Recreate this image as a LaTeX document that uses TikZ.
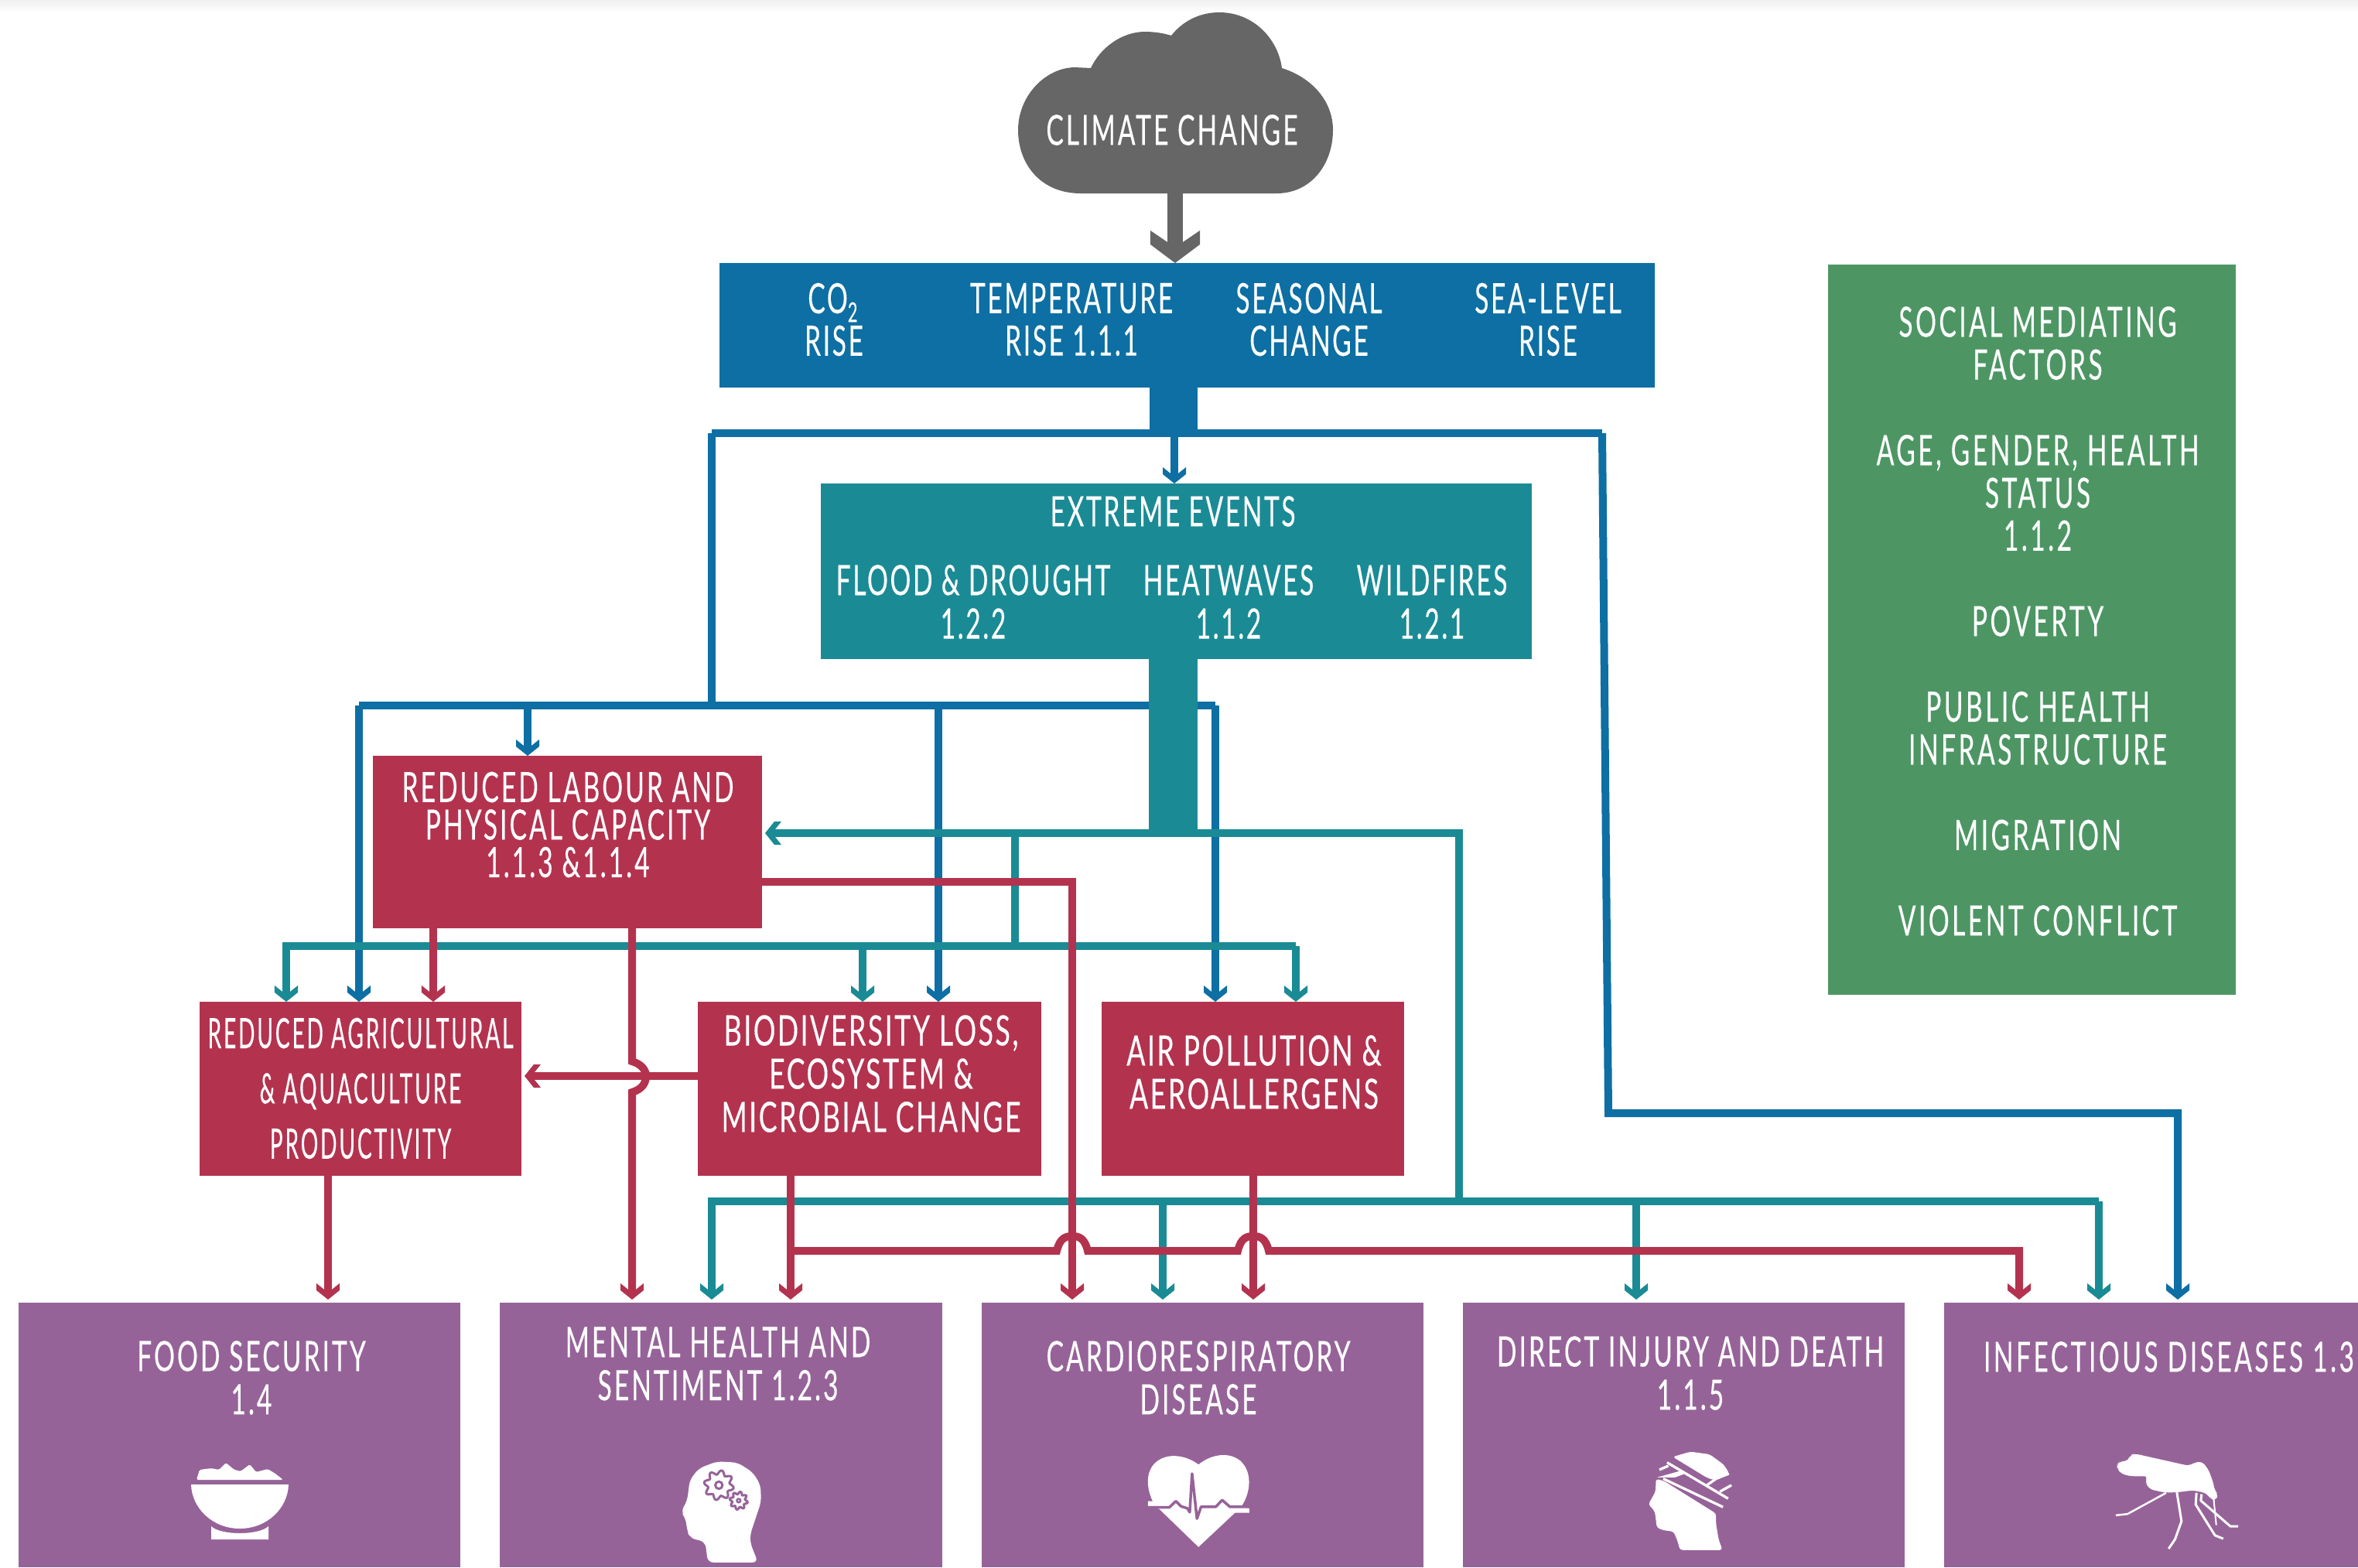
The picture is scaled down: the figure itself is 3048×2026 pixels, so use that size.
\documentclass[tikz,border=0pt]{standalone}
\usepackage{fontspec}
\usetikzlibrary{arrows.meta,fit}
\newfontfamily\tf[FakeStretch=0.62,LetterSpace=5.6,FakeBold=0.25]{Lato}
\newfontfamily\tfb[FakeStretch=0.62,LetterSpace=4.8,FakeBold=0.25]{Lato}
\newfontfamily\tfg[FakeStretch=0.62,LetterSpace=6.4,FakeBold=0.25]{Lato}
\newfontfamily\tfw[FakeStretch=0.66,LetterSpace=4.6,FakeBold=0.25]{Lato}
\newfontfamily\tfn[FakeStretch=0.52,LetterSpace=5.2,FakeBold=0.25]{Lato}
\definecolor{cblue}{HTML}{0D6FA3}
\definecolor{cteal}{HTML}{1A8B95}
\definecolor{cred}{HTML}{B3334F}
\definecolor{cpurple}{HTML}{966399}
\definecolor{cgreen}{HTML}{4D9664}
\definecolor{cgray}{HTML}{666666}
\pgfdeclarearrow{
  name=Chev,
  setup code={
    \pgfarrowssettipend{0pt}
    \pgfarrowssetbackend{-0.21cm}
    \pgfarrowssetlineend{-0.11cm}
    \pgfarrowssetvisualbackend{-0.11cm}
    \pgfarrowshullpoint{0pt}{0pt}
    \pgfarrowshullpoint{-0.21cm}{0.15cm}
    \pgfarrowshullpoint{-0.21cm}{-0.15cm}
  },
  drawing code={
    \pgfpathmoveto{\pgfqpoint{0pt}{0pt}}
    \pgfpathlineto{\pgfpoint{-0.12cm}{0.15cm}}
    \pgfpathlineto{\pgfpoint{-0.21cm}{0.15cm}}
    \pgfpathlineto{\pgfpoint{-0.13cm}{0.05cm}}
    \pgfpathlineto{\pgfpoint{-0.13cm}{-0.05cm}}
    \pgfpathlineto{\pgfpoint{-0.21cm}{-0.15cm}}
    \pgfpathlineto{\pgfpoint{-0.12cm}{-0.15cm}}
    \pgfpathclose
    \pgfusepathqfill
  }
}
\pgfdeclarearrow{
  name=ChevBig,
  setup code={
    \pgfarrowssettipend{0pt}
    \pgfarrowssetbackend{-0.42cm}
    \pgfarrowssetlineend{-0.22cm}
    \pgfarrowssetvisualbackend{-0.22cm}
    \pgfarrowshullpoint{0pt}{0pt}
    \pgfarrowshullpoint{-0.42cm}{0.32cm}
    \pgfarrowshullpoint{-0.42cm}{-0.32cm}
  },
  drawing code={
    \pgfpathmoveto{\pgfqpoint{0pt}{0pt}}
    \pgfpathlineto{\pgfpoint{-0.24cm}{0.32cm}}
    \pgfpathlineto{\pgfpoint{-0.42cm}{0.32cm}}
    \pgfpathlineto{\pgfpoint{-0.27cm}{0.1cm}}
    \pgfpathlineto{\pgfpoint{-0.27cm}{-0.1cm}}
    \pgfpathlineto{\pgfpoint{-0.42cm}{-0.32cm}}
    \pgfpathlineto{\pgfpoint{-0.24cm}{-0.32cm}}
    \pgfpathclose
    \pgfusepathqfill
  }
}
\tikzset{
  x=0.01cm,y=-0.01cm,
  box/.style={inner sep=0pt,outer sep=0pt,draw=none},
  lbl/.style={text=white,inner sep=0pt,outer sep=0pt,align=center},
  ls/.style={font=\tf\fontsize{15.4}{#1}\selectfont},
  lsb/.style={font=\tfb\fontsize{15.4}{#1}\selectfont},
  lsg/.style={font=\tfg\fontsize{15.4}{#1}\selectfont},
  lsw/.style={font=\tfw\fontsize{15.4}{#1}\selectfont},
  lsn/.style={font=\tfn\fontsize{15.4}{#1}\selectfont},
  bline/.style={draw=cblue,line width=0.1cm},
  tline/.style={draw=cteal,line width=0.1cm},
  rline/.style={draw=cred,line width=0.1cm},
  arr/.style={-{Chev}},
  gap/.style={shorten >=0.04cm},
  ico/.style={x=0.003333cm,y=-0.003333cm}
}
\begin{document}
\begin{tikzpicture}
\useasboundingbox (0,0) rectangle (3048,2026);
\clip (0,0) rectangle (3048,2026);
\fill[white] (0,0) rectangle (3048,2026);
\shade[top color=black!6,bottom color=white] (0,0) rectangle (3048,16);

% cloud
\fill[cgray] (1397,250) .. controls (1345,250) and (1316,212) .. (1316,168) .. controls (1316,125) and (1350,88) .. (1389,87) -- (1410,88) .. controls (1422,62) and (1450,41) .. (1480,41) .. controls (1492,41) and (1505,43) .. (1514,46) .. controls (1528,28) and (1550,16) .. (1576,16) .. controls (1620,16) and (1652,50) .. (1657,88) .. controls (1695,100) and (1723,130) .. (1723,168) .. controls (1723,212) and (1695,250) .. (1650,250) -- cycle;
\node[lbl,ls=16] (climate) at (1515,168) {CLIMATE CHANGE};

% boxes
\node[box,fill=cblue,fit={(930,340)(2139,501)}] (drivers) {};
\node[box,fill=cblue,fit={(1486,501)(1548,560)}] (dtrunk) {};
\node[box,fill=cteal,fit={(1061,625)(1980,852)}] (extreme) {};
\node[box,fill=cgreen,fit={(2363,342)(2890,1286)}] (social) {};
\node[box,fill=cred,fit={(482,977)(985,1200)}] (labour) {};
\node[box,fill=cred,fit={(258,1295)(674,1520)}] (agri) {};
\node[box,fill=cred,fit={(902,1295)(1346,1520)}] (bio) {};
\node[box,fill=cred,fit={(1424,1295)(1815,1520)}] (air) {};
\node[box,fill=cpurple,fit={(24,1684)(595,2026)}] (food) {};
\node[box,fill=cpurple,fit={(646,1684)(1218,2026)}] (mental) {};
\node[box,fill=cpurple,fit={(1269,1684)(1840,2026)}] (cardio) {};
\node[box,fill=cpurple,fit={(1891,1684)(2462,2026)}] (injury) {};
\node[box,fill=cpurple,fit={(2513,1684)(3060,2026)}] (infect) {};

% junctions
\coordinate (cloudb) at (1519,250);
\coordinate (b0) at (1518,560);
\coordinate (bl) at (920,560);
\coordinate (br) at (2071,560);
\coordinate (bb) at (920,912);
\coordinate (bbl) at (464,912);
\coordinate (bbr) at (1571,912);
\coordinate (bb1) at (682,912);
\coordinate (bb2) at (1213,912);
\coordinate (brc) at (2079,1439);
\coordinate (brd) at (2815,1439);
\coordinate (t0) at (1485,1077);
\coordinate (tr) at (1886,1077);
\coordinate (tm) at (1886,1553);
\coordinate (tj) at (1312,1077);
\coordinate (tb) at (1312,1223);
\coordinate (tbl) at (370,1223);
\coordinate (tbr) at (1675,1223);
\coordinate (tb1) at (1115,1223);
\coordinate (tlo) at (920,1553);
\coordinate (tlo2) at (2713,1553);
\coordinate (tlo3) at (1503,1553);
\coordinate (tlo4) at (2115,1553);
\coordinate (ra) at (560,1200);
\coordinate (rm) at (817,1200);
\coordinate (rm1) at (817,1372);
\coordinate (rm2) at (817,1412);
\coordinate (rc) at (985,1140);
\coordinate (rc1) at (1386,1140);
\coordinate (rh) at (902,1391);
\coordinate (rf) at (424,1520);
\coordinate (rb) at (1022,1520);
\coordinate (rb1) at (1022,1617);
\coordinate (rb2) at (2610,1617);
\coordinate (rair) at (1620,1520);

% blue connectors
\draw[cgray,line width=0.2cm,-{ChevBig}] (cloudb) -- (cloudb |- drivers.north);
\draw[bline] (bl) -- (br);
\draw[bline,arr] (b0) -- (b0 |- extreme.north);
\draw[bline] (bl) -- (bb);
\draw[bline] (bbl) -- (bbr);
\draw[bline,arr] (bbl) -- (bbl |- agri.north);
\draw[bline,arr] (bb1) -- (bb1 |- labour.north);
\draw[bline,arr] (bb2) -- (bb2 |- bio.north);
\draw[bline,arr] (bbr) -- (bbr |- air.north);
\draw[bline,arr,gap] (br) -- (brc) -- (brd) -- (brd |- infect.north);

% trunk of extreme events
\node[box,fill=cteal,fit={(1485,852)(1548,1082)}] (etrunk) {};

% teal connectors
\draw[tline,arr,gap] (t0) -- (labour.east |- t0);
\draw[tline] (t0) -- (tr) -- (tm);
\draw[tline] (tj) -- (tb);
\draw[tline,arr] (tbr |- tb) -- (tb) -- (tbl) -- (tbl |- agri.north);
\draw[tline,arr] (tbr) -- (tbr |- air.north);
\draw[tline,arr] (tb1) -- (tb1 |- bio.north);
\draw[tline,arr,gap] (tlo2) -- (tlo) -- (tlo |- mental.north);
\draw[tline,arr,gap] (tlo2) -- (tlo2 |- infect.north);
\draw[tline,arr,gap] (tlo3) -- (tlo3 |- cardio.north);
\draw[tline,arr,gap] (tlo4) -- (tlo4 |- injury.north);

% red connectors
\draw[rline,arr] (ra) -- (ra |- agri.north);
\draw[rline,arr,gap] (rm) -- (rm1) .. controls (830,1376) and (835,1384) .. (835,1391) .. controls (835,1400) and (830,1408) .. (rm2) -- (rm |- mental.north);
\draw[rline,arr,gap] (rh) -- (rh -| agri.east);
\draw[rline,arr,gap] (rc) -- (rc1) -- (rc1 |- cardio.north);
\draw[rline,arr,gap] (rf) -- (rf |- food.north);
\draw[rline,arr,gap] (rb) -- (rb |- mental.north);
\draw[rline,arr,gap] (rair) -- (rair |- cardio.north);
\draw[rline,arr,gap] (rb1) -- (1366,1617) .. controls (1370,1600) and (1378,1598) .. (1386,1598) .. controls (1394,1598) and (1402,1600) .. (1406,1617) -- (1600,1617) .. controls (1604,1600) and (1612,1598) .. (1620,1598) .. controls (1628,1598) and (1636,1600) .. (1640,1617) -- (rb2) -- (rb2 |- infect.north);

% texts
\node[lbl,lsb=15.6] (co) at (1078,413) {CO\rlap{\raisebox{-3.2pt}{\fontsize{10}{10}\selectfont 2}}\kern 4.5pt\\RISE};
\node[lbl,lsb=15.6] (temp) at (1385,413) {TEMPERATURE\\RISE 1.1.1};
\node[lbl,lsb=15.6] (season) at (1692,413) {SEASONAL\\CHANGE};
\node[lbl,lsb=15.6] (sea) at (2001,413) {SEA-LEVEL\\RISE};
\node[lbl,lsb=16] (exth) at (1516,661) {EXTREME EVENTS};
\node[lbl,lsb=16] (flood) at (1258,778) {FLOOD \& DROUGHT\\1.2.2};
\node[lbl,lsb=16] (heat) at (1588,778) {HEATWAVES\\1.1.2};
\node[lbl,lsb=16] (wild) at (1851,778) {WILDFIRES\\1.2.1};
\node[lbl,lsg=15.72] (soc) at (2634,803) {SOCIAL MEDIATING\\FACTORS\\[15.72pt]AGE, GENDER, HEALTH\\STATUS\\1.1.2\\[15.72pt]POVERTY\\[15.72pt]PUBLIC HEALTH\\INFRASTRUCTURE\\[15.72pt]MIGRATION\\[15.72pt]VIOLENT CONFLICT};
\node[lbl,ls=13.8] (labt) at (734,1066) {REDUCED LABOUR AND\\PHYSICAL CAPACITY\\1.1.3 \&1.1.4};
\node[lbl,lsn=20.3] (agrt) at (466,1407) {REDUCED AGRICULTURAL\\\& AQUACULTURE\\PRODUCTIVITY};
\node[lbl,lsw=15.9] (biot) at (1126,1388) {BIODIVERSITY LOSS,\\ECOSYSTEM \&\\MICROBIAL CHANGE};
\node[lbl,lsw=15.9] (airt) at (1621,1386) {AIR POLLUTION \&\\AEROALLERGENS};
\node[lbl,ls=15.9] (foodt) at (325,1781) {FOOD SECURITY\\1.4};
\node[lbl,ls=15.9] (ment) at (928,1763) {MENTAL HEALTH AND\\SENTIMENT 1.2.3};
\node[lbl,ls=15.9] (cart) at (1549,1781) {CARDIORESPIRATORY\\DISEASE};
\node[lbl,ls=15.9] (inj) at (2185,1775) {DIRECT INJURY AND DEATH\\1.1.5};
\node[lbl,lsg=15.9,anchor=west] (inf) at (2564,1754) {INFECTIOUS DISEASES 1.3};

% bowl icon
\fill[white,rounded corners=0.5pt] (254,1913) -- (258,1900) -- (273,1898) -- (283,1900) -- (292,1891) -- (303,1900) -- (311,1902) -- (323,1893) -- (331,1903) -- (346,1899) -- (356,1905) -- (366,1913) -- cycle;
\fill[white] (247,1919) -- (373,1919) .. controls (372,1950) and (345,1976) .. (310,1976) .. controls (275,1976) and (248,1950) .. (247,1919) -- cycle;
\fill[white] (273,1973) .. controls (285,1985) and (335,1985) .. (347,1973) -- (347,1990) -- (273,1990) -- cycle;

% head with gears
\begin{scope}[shift={(860,1870)},ico]
\fill[white,rounded corners=2pt] (165,450) -- (360,450) -- (330,375) -- (330,340) -- (372,215) -- (370,150) -- (340,100) -- (280,62) -- (200,58) -- (130,85) -- (95,130) -- (85,210) -- (60,255) -- (78,275) -- (85,325) -- (95,355) -- (155,370) -- cycle;
\draw[cpurple,line width=0.03cm,fill=white] plot[domain=0:360,samples=97,variable=\t] ({208+(50+8*sin(8*\t))*cos(\t)},{150+(50+8*sin(8*\t))*sin(\t)}) -- cycle;
\draw[cpurple,line width=0.03cm] (208,150) circle (14);
\draw[cpurple,line width=0.03cm,fill=white] plot[domain=0:360,samples=97,variable=\t] ({285+(30+5*sin(8*\t))*cos(\t)},{210+(30+5*sin(8*\t))*sin(\t)}) -- cycle;
\draw[cpurple,line width=0.025cm] (285,210) circle (7);
\end{scope}

% heart
\begin{scope}[shift={(1460,1860)},ico]
\fill[white] (72,242) -- (90,242) .. controls (65,190) and (60,120) .. (110,85) .. controls (160,50) and (230,70) .. (268,100) .. controls (310,65) and (380,45) .. (430,85) .. controls (480,130) and (470,210) .. (435,262) -- (465,270) -- (465,287) -- (410,287) -- (268,420) -- (115,272) -- (72,262) -- cycle;
\draw[cpurple,line width=0.035cm,line join=round] (60,266) -- (155,266) -- (180,242) -- (200,262) -- (225,270) -- (234,285) -- (243,135) -- (262,310) -- (278,264) -- (335,264) -- (360,238) -- (390,264) -- (470,264);
\end{scope}

% bandaged head
\begin{scope}[shift={(2100,1860)},ico]
\fill[white,rounded corners=1pt] (187,70) -- (255,50) -- (330,60) -- (385,100) -- (407,135) -- (345,160) -- (318,150) -- cycle;
\fill[white,rounded corners=1pt] (155,165) -- (355,290) -- (355,330) -- (365,390) -- (380,432) -- (215,432) -- (205,395) -- (190,360) -- (150,355) -- (125,345) -- (118,285) -- (108,270) -- (92,255) -- (120,205) -- (122,155) -- cycle;
\fill[white] (125,150) -- (215,125) -- (235,135) -- (195,150) -- cycle;
\draw[white,line width=0.033cm] (150,155) -- (382,265);
\draw[white,line width=0.033cm] (165,92) -- (402,232);
\draw[white,line width=0.033cm] (135,120) -- (170,105);
\draw[white,line width=0.033cm] (320,180) -- (355,155) -- (405,135);
\draw[white,line width=0.033cm] (370,205) -- (415,180);
\end{scope}

% mosquito
\begin{scope}[shift={(2720,1860)},ico]
\fill[white,rounded corners=1.5pt] (50,100) -- (60,88) -- (95,85) -- (100,62) -- (120,58) -- (330,105) -- (350,92) -- (380,88) -- (405,120) -- (425,175) -- (428,200) -- (442,215) -- (435,240) -- (415,235) -- (395,210) -- (345,200) -- (280,208) -- (230,208) -- (175,195) -- (158,165) -- (170,145) -- (100,145) -- (65,135) -- (50,115) -- cycle;
\draw[white,line width=0.025cm,line join=round] (240,210) -- (90,292) -- (45,297);
\draw[white,line width=0.03cm,line join=round] (282,208) -- (300,320) -- (275,390) -- (250,427);
\draw[white,line width=0.03cm,line join=round] (358,210) -- (355,255) -- (430,375) -- (462,388);
\draw[white,line width=0.03cm,line join=round] (378,215) -- (375,240) -- (490,340) -- (520,340);
\draw[white,line width=0.02cm] (425,235) -- (435,335);
\end{scope}
\end{tikzpicture}
\end{document}
